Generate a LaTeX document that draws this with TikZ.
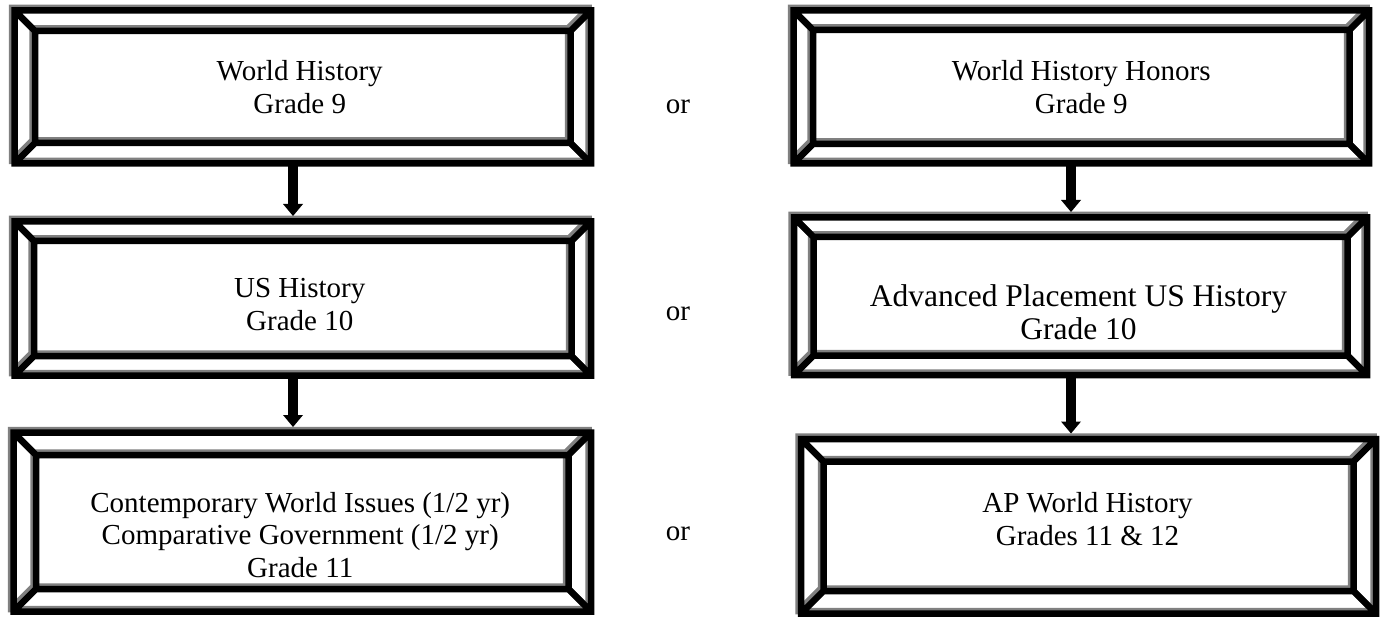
\documentclass[tikz,border=0pt]{standalone}
\usepackage{fontspec}
\setmainfont{Liberation Serif}
\usetikzlibrary{calc,arrows.meta}
\definecolor{bevgray}{HTML}{808080}
\tikzset{
  box/.style={draw=none, inner sep=0pt, outer sep=0pt, rectangle},
  frameline/.style={line width=6.5pt, line join=miter},
  label/.style={align=center, inner sep=0pt, font=\fontsize{29}{32.8}\selectfont},
  biglabel/.style={align=center, inner sep=0pt, font=\fontsize{31.5}{33.5}\selectfont},
  ortext/.style={inner sep=0pt, font=\fontsize{29}{32.8}\selectfont},
  flowarrow/.style={line width=10pt, -{Triangle[length=12pt,width=20pt,line width=0pt]}}
}
\newcommand\bevelpath[3]{%
  \draw[frameline, draw=#3]
    (#1.north west) rectangle (#1.south east)
    ($(#1.north west)+(#2,#2)$) rectangle ($(#1.south east)+(-#2,-#2)$)
    (#1.north west) -- ($(#1.north west)+(#2,#2)$)
    (#1.north east) -- ($(#1.north east)+(-#2,#2)$)
    (#1.south west) -- ($(#1.south west)+(#2,-#2)$)
    (#1.south east) -- ($(#1.south east)+(-#2,-#2)$);}
\newcommand\bevelframe[2]{%
  \begin{scope}[transform canvas={shift={(-2.5pt,2.5pt)}}]
    \bevelpath{#1}{#2}{bevgray}
  \end{scope}
  \bevelpath{#1}{#2}{black}}
\begin{document}
\begin{tikzpicture}[x=1pt,y=-1pt]
\useasboundingbox (0,0) rectangle (1388,617);
\fill[white] (0,0) rectangle (1388,617);
% boxes (line-centre rectangles)
\node[box, minimum width=576.5pt, minimum height=153pt] (L1) at (302.75,87) {};
\node[box, minimum width=576.5pt, minimum height=154pt] (L2) at (302.75,298.5) {};
\node[box, minimum width=577.5pt, minimum height=179pt] (L3) at (302.25,522) {};
\node[box, minimum width=575.5pt, minimum height=153pt] (R1) at (1081.25,87) {};
\node[box, minimum width=573pt, minimum height=157.5pt] (R2) at (1080.5,296.25) {};
\node[box, minimum width=575pt, minimum height=174.5pt] (R3) at (1088.5,526.25) {};
\bevelframe{L1}{20.5}
\bevelframe{L2}{19.5}
\bevelframe{L3}{22.5}
\bevelframe{R1}{19.5}
\bevelframe{R2}{19.5}
\bevelframe{R3}{22.5}
% texts
\node[label] (L1t) at ($(L1.center)+(-3,0)$) {World History\\Grade 9};
\node[label] (L2t) at ($(L2.center)+(-3,6)$) {US History\\Grade 10};
\node[label] (L3t) at ($(L3.center)+(-2,13)$) {Contemporary World Issues (1/2 yr)\\Comparative Government (1/2 yr)\\Grade 11};
\node[label] (R1t) at (R1.center) {World History Honors\\Grade 9};
\node[biglabel] (R2t) at ($(R2.center)+(-2,16)$) {Advanced Placement US History\\Grade 10};
\node[label] (R3t) at ($(R3.center)+(-1,-7)$) {AP World History\\Grades 11 \& 12};
\node[ortext] (or1) at (678,106.5) {or};
\node[ortext] (or2) at (678,314) {or};
\node[ortext] (or3) at (678,534) {or};
% arrow end points
\coordinate (l1b) at ($(L1.south)+(-9.75,0)$);
\coordinate (l2t) at ($(l1b |- L2.north)+(0,-5.5)$);
\coordinate (l2b) at ($(L2.south)+(-9.75,0)$);
\coordinate (l3t) at ($(l2b |- L3.north)+(0,-5.5)$);
\coordinate (r1b) at ($(R1.south)+(-10.25,0)$);
\coordinate (r2t) at ($(r1b |- R2.north)+(0,-5.5)$);
\coordinate (r2b) at ($(R2.south)+(-9.5,0)$);
\coordinate (r3t) at ($(r2b |- R3.north)+(0,-5.5)$);
% arrows
\draw[flowarrow] (l1b) -- (l2t);
\draw[flowarrow] (l2b) -- (l3t);
\draw[flowarrow] (r1b) -- (r2t);
\draw[flowarrow] (r2b) -- (r3t);
\end{tikzpicture}
\end{document}
